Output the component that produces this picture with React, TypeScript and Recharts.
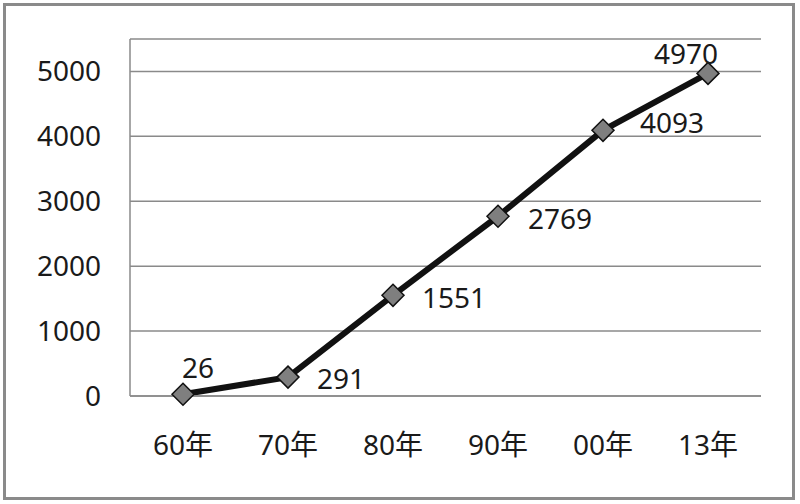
import React from "react";
import { LineChart, Line, XAxis, YAxis, CartesianGrid } from "recharts";

const years = ["60年", "70年", "80年", "90年", "00年", "13年"];
const values = [26, 291, 1551, 2769, 4093, 4970];
const yTicks = [0, 1000, 2000, 3000, 4000, 5000];

const data = years.map((year, i) => ({ year, value: values[i] }));

const FONT = "'Noto Sans', 'Noto Sans CJK SC', sans-serif";
const GRAY = "#8a8a8a";
const FS = 28;

// label placement around each point (center offsets)
const labelOffsets = [
  [15, -27],
  [53, 1],
  [61, 2],
  [62, 2],
  [69, -8],
  [-22, -20],
];

const Diamond = (props: any) => {
  const { cx, cy } = props;
  if (cx == null || cy == null) return null;
  const r = 11;
  return (
    <polygon
      points={`${cx},${cy - r} ${cx + r},${cy} ${cx},${cy + r} ${cx - r},${cy}`}
      fill="#7f7f7f"
      stroke="#111"
      strokeWidth={1.5}
    />
  );
};

const ValueLabel = (props: any) => {
  const { x, y, value, index } = props;
  const [dx, dy] = labelOffsets[index] || [0, -20];
  return (
    <text
      x={x + dx}
      y={y + dy}
      textAnchor="middle"
      dominantBaseline="central"
      fontSize={FS}
      fontFamily={FONT}
      fill="#1a1a1a"
    >
      {value}
    </text>
  );
};

export default function App() {
  return (
    <div style={{ position: "absolute", left: 0, top: 0, width: 800, height: 504, background: "#fff" }}>
      <div
        style={{
          position: "absolute",
          left: 3,
          top: 3,
          width: 792,
          height: 497,
          boxSizing: "border-box",
          border: `3px solid ${GRAY}`,
        }}
      />
      <div style={{ position: "absolute", left: 0, top: 0 }}>
        <LineChart
          width={800}
          height={504}
          data={data}
          margin={{ top: 39, right: 39, left: 0, bottom: 48 }}
        >
          <CartesianGrid vertical={false} stroke={GRAY} strokeWidth={1.5} />
          <XAxis
            dataKey="year"
            height={60}
            padding={{ left: 53, right: 53 }}
            stroke={GRAY}
            strokeWidth={1.5}
            tickLine={false}
            tickSize={0}
            tickMargin={39}
            tick={{ fontSize: FS, fontFamily: FONT, fill: "#1a1a1a" }}
          />
          <YAxis
            width={130}
            domain={[0, 5500]}
            ticks={yTicks}
            stroke={GRAY}
            strokeWidth={1.5}
            tickLine={false}
            tickSize={0}
            tickMargin={29}
            tick={{ fontSize: FS, fontFamily: FONT, fill: "#1a1a1a" }}
          />
          <Line
            type="linear"
            dataKey="value"
            stroke="#111"
            strokeWidth={6}
            dot={<Diamond />}
            activeDot={false}
            label={<ValueLabel />}
            isAnimationActive={false}
          />
        </LineChart>
      </div>
    </div>
  );
}
